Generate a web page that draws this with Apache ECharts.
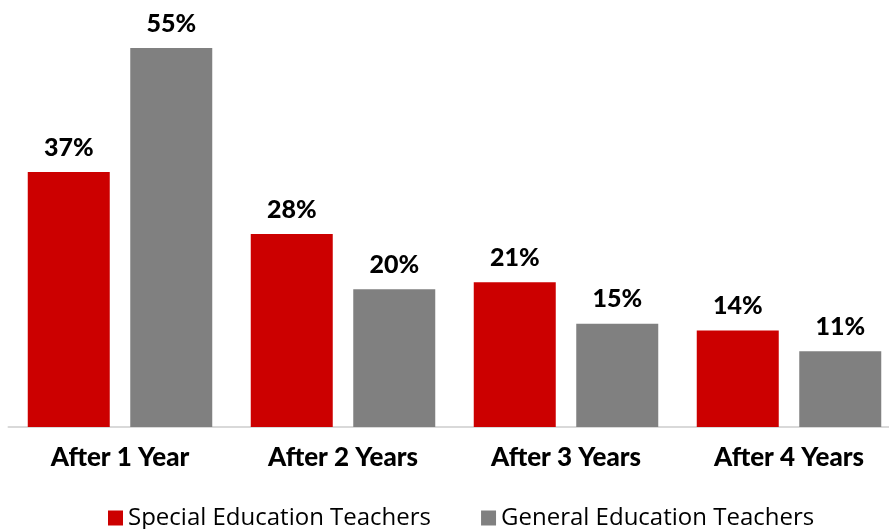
<!DOCTYPE html>
<html>
<head>
<meta charset="utf-8">
<script src="https://cdn.jsdelivr.net/npm/echarts@6/dist/echarts.min.js"></script>
<style>
  html, body { margin: 0; padding: 0; background: #ffffff; }
  #chart { width: 889px; height: 529px; }
</style>
</head>
<body>
<div id="chart"></div>
<script>
// Teacher attrition by years of service
const categories = ['After 1 Year', 'After 2 Years', 'After 3 Years', 'After 4 Years'];
const specialEd = [37, 28, 21, 14];
const generalEd = [55, 20, 15, 11];
const seriesNames = ['Special Education Teachers', 'General Education Teachers'];

const chart = echarts.init(document.getElementById('chart'));

const valueLabel = {
  show: true,
  position: 'top',
  distance: 12,
  formatter: '{c}%',
  fontFamily: 'Lato',
  fontWeight: 900,
  fontSize: 25,
  color: '#000000'
};

chart.setOption({
  animation: false,
  backgroundColor: '#ffffff',
  grid: {
    left: 8.5, width: 892, top: 48, bottom: 102,
    containLabel: false,
    outerBoundsMode: 'none'
  },
  legend: {
    top: 501,
    left: 103,
    itemWidth: 15,
    itemHeight: 15,
    itemGap: 50,
    icon: 'rect',
    textStyle: {
      fontFamily: "'Open Sans', sans-serif",
      fontSize: 24,
      color: '#000000'
    },
    data: seriesNames
  },
  xAxis: {
    type: 'category',
    data: categories,
    axisLine: { show: true, lineStyle: { color: '#d9d9d9', width: 2 } },
    axisTick: { show: false },
    axisLabel: {
      interval: 0,
      margin: 18,
      fontFamily: 'Lato',
      fontWeight: 900,
      fontSize: 26,
      color: '#000000'
    }
  },
  yAxis: {
    type: 'value',
    min: 0,
    max: 55,
    show: false,
    splitLine: { show: false }
  },
  series: [
    {
      name: seriesNames[0],
      type: 'bar',
      data: specialEd,
      barWidth: 82,
      barGap: '25%',
      itemStyle: { color: '#cc0000' },
      label: valueLabel
    },
    {
      name: seriesNames[1],
      type: 'bar',
      data: generalEd,
      barWidth: 82,
      itemStyle: { color: '#808080' },
      label: valueLabel
    }
  ]
});
</script>
</body>
</html>
